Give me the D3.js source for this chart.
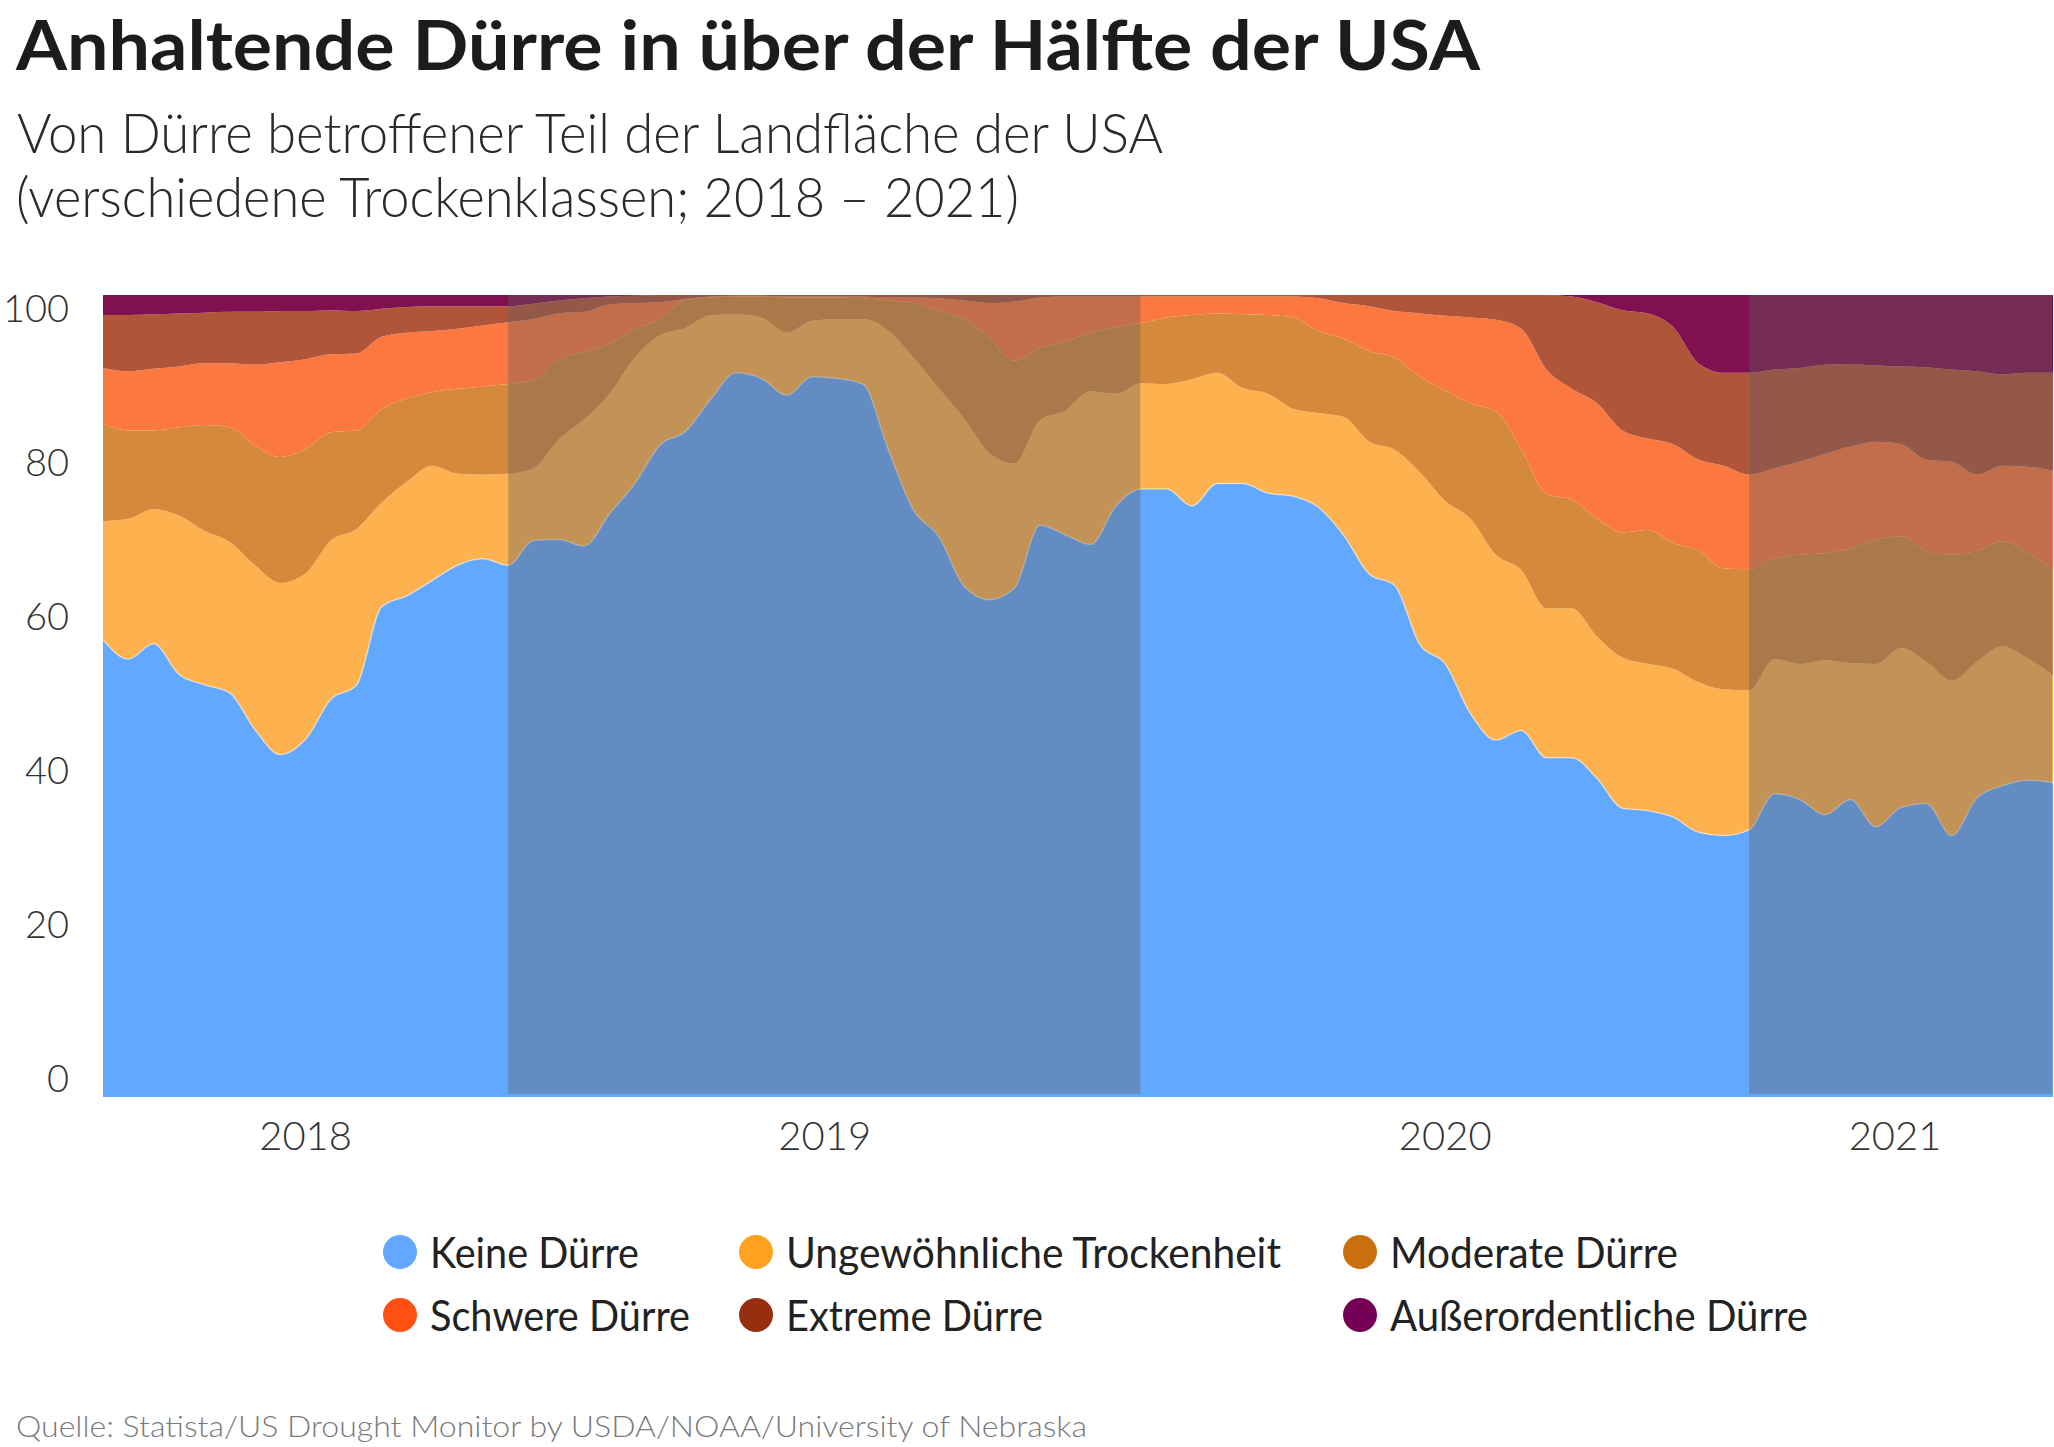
<!DOCTYPE html>
<html><head><meta charset="utf-8">
<script src="https://cdn.jsdelivr.net/npm/d3@7"></script>
<style>
html,body{margin:0;padding:0;background:#fff;}
svg{display:block;}
text{font-family:Lato,"Open Sans",sans-serif;}
</style></head><body>
<svg id="chart" width="2054" height="1447"></svg>
<script>
// ---------- DATA ----------
const categories = ["Keine Dürre","Ungewöhnliche Trockenheit","Moderate Dürre","Schwere Dürre","Extreme Dürre","Außerordentliche Dürre"];
const years = ["2018","2019","2020","2021"];
const yearStartIdx = [0,16,41,65];   // sample index where each year band begins
const lastIdx = 77;
const shadedYears = ["2019","2021"];
const yTicks = [0,20,40,60,80,100];

// cumulative shares (% of area) read bottom-up, one value per sample (~2 weeks)
const keineDuerre = [57.0,54.6,56.5,52.7,51.4,50.4,45.8,42.7,44.6,49.6,51.3,61.1,62.5,64.4,66.3,67.1,66.3,69.4,69.5,68.7,
  72.7,76.5,81.3,83.0,87.0,90.3,89.6,87.5,89.8,89.6,88.9,80.8,73.2,69.9,63.7,62.0,63.5,71.3,70.1,68.9,
  73.7,75.8,75.8,73.7,76.5,76.5,75.3,74.9,73.5,70.0,65.2,63.8,56.4,54.0,47.8,44.5,45.7,42.3,42.3,39.7,
  36.0,35.7,34.9,33.0,32.6,33.3,37.8,37.1,35.2,37.1,33.7,36.1,36.6,32.6,37.3,38.8,39.5,39.2];
const bisD0 = [71.8,72.1,73.3,72.5,70.6,69.2,66.3,64.1,65.3,69.4,70.8,74.1,76.7,78.7,77.7,77.6,77.7,78.4,82.0,84.5,
  87.7,92.2,95.0,95.9,97.5,97.6,97.2,95.3,96.8,97.0,97.0,95.6,92.2,88.4,84.6,80.3,79.0,84.4,85.6,88.0,
  87.7,89.0,88.9,89.5,90.3,88.4,87.7,85.8,85.3,84.8,81.7,80.7,77.9,74.3,72.1,67.6,65.7,60.9,60.9,57.4,
  54.8,54.0,53.4,51.7,50.8,50.7,54.6,54.0,54.5,54.1,54.0,56.0,54.3,51.9,54.3,56.2,54.7,52.6];
const bisD1 = [83.9,83.1,83.1,83.5,83.8,83.5,81.2,79.8,80.8,82.9,83.1,85.8,87.1,87.9,88.3,88.6,88.9,89.4,92.0,92.9,
  93.9,95.8,97.0,99.4,99.7,99.8,99.8,99.7,99.7,99.7,99.6,99.3,99.0,98.0,97.0,94.6,91.8,93.4,94.2,95.3,
  96.0,96.5,97.2,97.5,97.7,97.6,97.5,97.2,95.5,94.5,93.0,92.2,89.8,88.1,86.5,85.5,80.8,75.2,74.5,72.1,
  70.4,70.7,69.1,68.1,65.9,65.8,67.1,67.6,67.8,68.4,69.5,69.9,68.1,67.6,68.1,69.3,67.9,65.7];
const bisD2 = [90.9,90.5,90.8,91.1,91.5,91.5,91.3,91.6,92.0,92.6,92.7,94.8,95.3,95.5,95.8,96.2,96.6,97.0,97.7,97.9,
  98.8,99.0,99.1,99.5,99.8,99.9,99.9,99.8,99.8,99.8,99.8,99.7,99.7,99.6,99.3,99.0,99.2,99.7,99.8,99.8,
  99.8,99.8,99.8,99.8,99.8,99.8,99.8,99.8,99.6,99.0,98.6,98.0,97.7,97.4,97.2,96.9,95.8,90.7,88.3,86.5,
  83.1,82.1,81.4,79.5,78.7,77.6,78.4,79.2,80.2,81.1,81.7,81.4,79.5,79.2,77.6,78.7,78.6,78.1];
const bisD3 = [97.5,97.5,97.6,97.7,97.8,97.9,97.9,98.0,98.0,98.1,98.0,98.3,98.5,98.6,98.6,98.6,98.6,98.9,99.3,99.6,
  99.8,99.9,100,100,100,100,100,100,100,100,100,100,100,100,100,100,100,100,100,100,
  100,100,100,100,100,100,100,100,100,100,100,100,100,100,100,100,100,100,99.8,99.1,
  98.1,97.7,96.0,91.5,90.3,90.3,90.7,90.9,91.3,91.4,91.2,91.1,91.0,90.7,90.5,90.1,90.3,90.3];

// ---------- STYLE / LAYOUT ----------
const areaColors = ["#62a8fe","#fdb24f","#d58a3b","#fc7841","#b05539","#80104f"];
const legendColors = ["#62a8ff","#ffa21e","#c8700e","#ff5012","#952f10","#740056"];
const plot = {left:103, right:2053, top:295, bottom:1097};

const svg = d3.select("#chart");

// rows -> per-category values
const rows = keineDuerre.map((v,i) => ({
  i,
  [categories[0]]: v,
  [categories[1]]: bisD0[i]-v,
  [categories[2]]: bisD1[i]-bisD0[i],
  [categories[3]]: bisD2[i]-bisD1[i],
  [categories[4]]: bisD3[i]-bisD2[i],
  [categories[5]]: 100-bisD3[i]
}));
const stack = d3.stack().keys(categories)(rows);

const x = d3.scaleLinear().domain([0,lastIdx]).range([plot.left, plot.right]);
const y = d3.scaleLinear().domain([0,100]).range([plot.bottom, plot.top]);
const yLab = d3.scaleLinear().domain([0,100]).range([1079,309]);

const area = d3.area().curve(d3.curveMonotoneX)
  .x(d => x(d.data.i)).y0(d => y(d[0])).y1(d => y(d[1]));

svg.append("g").selectAll("path").data(stack).join("path")
  .attr("d", area).attr("fill", (d,k) => areaColors[k]);

// subtle light edge on top of "Keine Dürre"
svg.append("path").datum(stack[0])
  .attr("d", d3.line().curve(d3.curveMonotoneX).x(d=>x(d.data.i)).y(d=>y(d[1])))
  .attr("fill","none").attr("stroke","#ffffff").attr("stroke-opacity",0.45).attr("stroke-width",1.5);

// year bands
const periods = years.map((yr,k) => ({year:yr, start:yearStartIdx[k], end: k<years.length-1 ? yearStartIdx[k+1] : lastIdx}));
svg.append("g").selectAll("rect").data(periods.filter(p => shadedYears.includes(p.year))).join("rect")
  .attr("x", d => x(d.start)).attr("width", d => x(d.end)-x(d.start)-1)
  .attr("y", plot.top).attr("height", plot.bottom-plot.top-3)
  .attr("fill","#645f60").attr("fill-opacity",0.38);

// x labels
svg.append("g").selectAll("text").data(periods).join("text")
  .attr("x", d => (x(d.start)+x(d.end))/2 - (d.end===lastIdx ? 6 : 0)).attr("y", 1136).attr("dy","0.35em")
  .attr("text-anchor","middle").attr("font-size",40).attr("font-weight",300).attr("fill","#333")
  .text(d => d.year);

// y axis labels
const yAxis = svg.append("g").attr("transform","translate(69,0)")
  .call(d3.axisLeft(yLab).tickValues(yTicks).tickSize(0).tickPadding(0).tickFormat(d3.format("d")));
yAxis.select(".domain").remove();
yAxis.selectAll("text").attr("font-size",38).attr("font-weight",300).attr("fill","#333")
  .attr("font-family","Lato, 'Open Sans', sans-serif");

function fit(sel, w){
  const n = sel.node(); const cur = n.getComputedTextLength();
  if (Math.abs(cur-w) > 2) sel.attr("textLength", w).attr("lengthAdjust","spacingAndGlyphs");
}

// titles
fit(svg.append("text").attr("x",16).attr("y",70).attr("font-size",68).attr("font-weight",700).attr("fill","#1c1c1c")
  .text("Anhaltende Dürre in über der Hälfte der USA"), 1464);
fit(svg.append("text").attr("x",17).attr("y",153).attr("font-size",55).attr("font-weight",300).attr("fill","#2a2a2a")
  .text("Von Dürre betroffener Teil der Landfläche der USA"), 1146);
fit(svg.append("text").attr("x",16).attr("y",217).attr("font-size",55).attr("font-weight",300).attr("fill","#2a2a2a")
  .text("(verschiedene Trockenklassen; 2018 – 2021)"), 1003);

// legend
const legX = [400,756,1360], legY = [1252,1315];
const legW = [209,495,288,260,257,418];
const lg = svg.append("g").selectAll("g").data(categories).join("g")
  .attr("transform",(d,k) => `translate(${legX[k%3]},${legY[Math.floor(k/3)]})`);
lg.append("circle").attr("r",17).attr("fill",(d,k)=>legendColors[k]);
lg.append("text").attr("x",30).attr("y",16).attr("font-size",42).attr("font-weight",400).attr("fill","#222")
  .text(d=>d).each(function(d,k){ fit(d3.select(this), legW[k]); });

// source
fit(svg.append("text").attr("x",16).attr("y",1437).attr("font-size",30).attr("font-weight",300).attr("fill","#7a7a7a")
  .text("Quelle: Statista/US Drought Monitor by USDA/NOAA/University of Nebraska"), 1071);
</script></body></html>
